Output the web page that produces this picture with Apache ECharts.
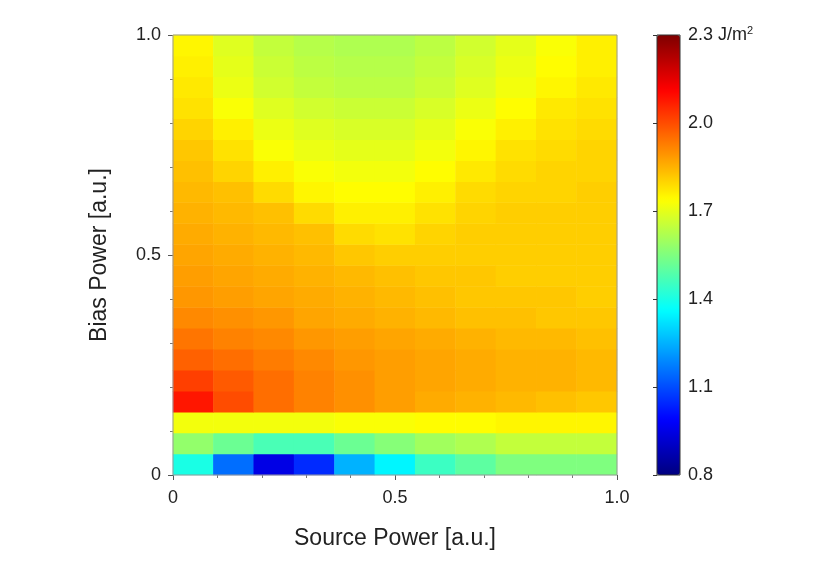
<!DOCTYPE html>
<html lang="en">
<head>
  <meta charset="UTF-8">
  <title>Energy map</title>
  <style>body{margin:0;background:#fff}</style>
</head>
<body>
  <div class="box" style="width: 821px;height: 571px;"></div>
  <script src="https://cdn.jsdelivr.net/npm/echarts@6/dist/echarts.min.js"></script>
  <script>
    // source power columns 0..1 step 0.1
    let xCats = ['0', '0.1', '0.2', '0.3', '0.4', '0.5', '0.6', '0.7', '0.8', '0.9', '1.0']
    // bias power rows 0..1 step 0.05 (bottom to top)
    let yCats = ['0', '0.05', '0.1', '0.15', '0.2', '0.25', '0.3', '0.35', '0.4', '0.45', '0.5',
      '0.55', '0.6', '0.65', '0.7', '0.75', '0.8', '0.85', '0.9', '0.95', '1.0']
    let rows = [
      [1.4, 1.15, 0.95, 1.05, 1.25, 1.35, 1.45, 1.5, 1.55, 1.55, 1.55],
      [1.58, 1.52, 1.47, 1.47, 1.52, 1.56, 1.6, 1.62, 1.65, 1.65, 1.65],
      [1.72, 1.72, 1.72, 1.72, 1.73, 1.73, 1.74, 1.74, 1.75, 1.75, 1.75],
      [2.08, 2.0, 1.95, 1.92, 1.9, 1.88, 1.86, 1.85, 1.84, 1.83, 1.82],
      [2.02, 1.98, 1.95, 1.92, 1.9, 1.88, 1.87, 1.86, 1.85, 1.85, 1.84],
      [1.97, 1.95, 1.93, 1.91, 1.89, 1.88, 1.87, 1.86, 1.85, 1.85, 1.84],
      [1.94, 1.92, 1.91, 1.89, 1.88, 1.87, 1.86, 1.85, 1.84, 1.84, 1.83],
      [1.91, 1.9, 1.89, 1.87, 1.86, 1.85, 1.84, 1.83, 1.83, 1.82, 1.82],
      [1.89, 1.88, 1.87, 1.86, 1.85, 1.84, 1.83, 1.82, 1.82, 1.82, 1.81],
      [1.88, 1.87, 1.86, 1.85, 1.84, 1.83, 1.82, 1.82, 1.81, 1.81, 1.81],
      [1.87, 1.86, 1.85, 1.84, 1.82, 1.81, 1.81, 1.81, 1.81, 1.81, 1.81],
      [1.86, 1.85, 1.84, 1.83, 1.79, 1.78, 1.8, 1.81, 1.81, 1.81, 1.81],
      [1.85, 1.84, 1.83, 1.79, 1.76, 1.76, 1.78, 1.8, 1.81, 1.81, 1.81],
      [1.84, 1.83, 1.79, 1.75, 1.74, 1.74, 1.76, 1.79, 1.8, 1.8, 1.81],
      [1.83, 1.8, 1.76, 1.73, 1.72, 1.72, 1.74, 1.77, 1.79, 1.8, 1.8],
      [1.82, 1.78, 1.73, 1.71, 1.7, 1.7, 1.72, 1.75, 1.78, 1.79, 1.8],
      [1.8, 1.76, 1.71, 1.69, 1.68, 1.68, 1.7, 1.73, 1.76, 1.78, 1.79],
      [1.78, 1.73, 1.69, 1.67, 1.66, 1.66, 1.68, 1.71, 1.74, 1.77, 1.78],
      [1.77, 1.71, 1.67, 1.65, 1.64, 1.64, 1.66, 1.69, 1.72, 1.75, 1.77],
      [1.76, 1.7, 1.66, 1.64, 1.63, 1.63, 1.65, 1.68, 1.71, 1.74, 1.76],
      [1.75, 1.69, 1.65, 1.63, 1.62, 1.62, 1.64, 1.67, 1.7, 1.73, 1.76]
    ]
    let barMin = 0.8
    let barMax = 2.3
    let jet = ['#00007f', '#0000ff', '#007fff', '#00ffff', '#7fff7f', '#ffff00', '#ff7f00', '#ff0000', '#7f0000']

    let data = []
    for (let j = 0; j < rows.length; j++) {
      for (let i = 0; i < rows[j].length; i++) {
        data.push([i, j, rows[j][i]])
      }
    }

    let font = 'Liberation Sans'
    let myChart = echarts.init(document.querySelector('.box'))
    let option = {
      textStyle: { fontFamily: font },
      grid: [
        { left: 173, right: 204, top: 35, bottom: 96, outerBoundsMode: 'none', show: true, borderColor: '#999', borderWidth: 1, z: 10, backgroundColor: 'transparent' },
        { left: 657, width: 23, top: 35, bottom: 96, outerBoundsMode: 'none', show: true, borderColor: '#333', borderWidth: 1, backgroundColor: 'transparent', z: 10 }
      ],
      xAxis: [
        { type: 'category', data: xCats, gridIndex: 0, show: false },
        {
          type: 'value', gridIndex: 0, position: 'bottom', min: 0, max: 1, interval: 0.5,
          name: 'Source Power [a.u.]', nameLocation: 'middle', nameGap: 52,
          nameTextStyle: { fontSize: 23, color: '#222', fontFamily: font },
          axisLine: { show: false }, splitLine: { show: false },
          axisTick: { length: 5, lineStyle: { color: '#555' } },
          minorTick: { show: true, splitNumber: 5, length: 3, lineStyle: { color: '#777' } },
          axisLabel: { fontSize: 18, color: '#222', margin: 14, formatter: v => v === 0 ? '0' : v.toFixed(1) }
        },
        { type: 'value', gridIndex: 1, show: false, min: 0, max: 1 }
      ],
      yAxis: [
        { type: 'category', data: yCats, gridIndex: 0, show: false },
        {
          type: 'value', gridIndex: 0, position: 'left', min: 0, max: 1, interval: 0.5,
          name: 'Bias Power [a.u.]', nameLocation: 'middle', nameGap: 62, nameRotate: 90,
          nameTextStyle: { fontSize: 23, color: '#222', fontFamily: font },
          axisLine: { show: false }, splitLine: { show: false },
          axisTick: { length: 5, lineStyle: { color: '#555' } },
          minorTick: { show: true, splitNumber: 5, length: 3, lineStyle: { color: '#777' } },
          axisLabel: { fontSize: 18, color: '#222', margin: 12, formatter: v => v === 0 ? '0' : v.toFixed(1) }
        },
        {
          type: 'value', gridIndex: 1, position: 'right', min: barMin, max: barMax, interval: 0.3,
          axisLine: { show: false }, splitLine: { show: false },
          axisTick: { show: true, inside: true, length: 4, lineStyle: { color: '#333' } },
          axisLabel: {
            fontSize: 18, color: '#222', margin: 8,
            formatter: v => Math.abs(v - barMax) < 1e-6 ? '{a|2.3 J/m}{s|2}' : v.toFixed(1),
            rich: {
              a: { fontSize: 18, color: '#222', fontFamily: font },
              s: { fontSize: 11, color: '#222', verticalAlign: 'top', padding: [0, 0, 8, 0], fontFamily: font }
            }
          }
        }
      ],
      visualMap: {
        type: 'continuous', min: barMin, max: barMax, seriesIndex: 0,
        calculable: false, show: true, text: null, showLabel: false,
        left: 657, top: 35, itemWidth: 23, itemHeight: 440, padding: 0,
        inRange: { color: jet }
      },
      series: [
        {
          type: 'heatmap', xAxisIndex: 0, yAxisIndex: 0, data: data,
          itemStyle: { borderWidth: 0 }, emphasis: { disabled: true }
        },
        { type: 'scatter', xAxisIndex: 1, yAxisIndex: 1, data: [] }
      ]
    }
    myChart.setOption(option)
  </script>
</body>
</html>
